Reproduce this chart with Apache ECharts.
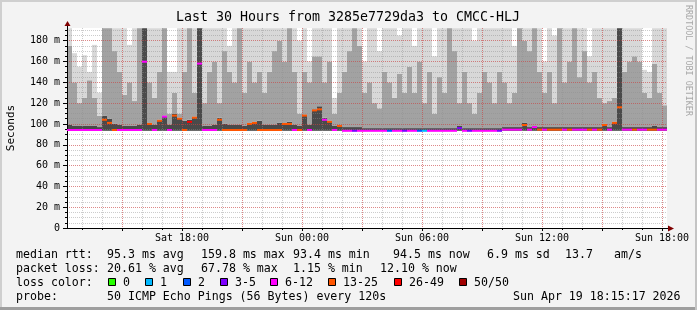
<!DOCTYPE html>
<html><head><meta charset="utf-8">
<script src="https://cdn.jsdelivr.net/npm/echarts@6/dist/echarts.min.js"></script>
<style>html,body{margin:0;padding:0;background:#f3f3f3}#c{width:697px;height:310px}</style>
</head><body><div id="c"></div>
<script>
// ---------- data ----------
const titleText = 'Last 30 Hours from 3285e7729da3 to CMCC-HLJ';
const startHour = 12.25;   // Sat 12:15 (hours since Sat 00:00)
const endHour = 42.25;     // Sun 18:15
const stepHours = 0.25;    // one column = 15 minutes
const smokeFloor = 93.4;   // lowest rtt seen (smoke starts here)

const medianRtt = [
  94.2,94.2,94.2,94.2,94.2,94.2,94.2,104,101,94.2,
  94.2,94.2,94.2,94.2,94.2,159.8,100,94.2,103,107,
  94.2,108,105,94.2,102,106,158,94.2,94.2,94.2,
  104,94.2,94.2,94.2,94.2,94.2,100,101,94.2,94.2,
  94.2,94.2,94.2,100,100,94.2,94.2,108,94.2,113,
  114,104,102,94.2,98,93.4,93.4,93.4,93.4,93.4,
  93.4,93.4,93.4,93.4,93.4,93.4,93.4,93.4,93.4,93.4,
  93.4,93.4,93.4,93.4,93.4,93.4,93.4,93.4,96,93.4,
  93.4,93.4,93.4,93.4,93.4,93.4,93.4,94.5,94.5,94.5,
  94.5,99,94.5,97,94.5,94.5,94.5,94.5,94.5,94.5,
  94.5,94.5,94.5,94.5,94.5,94.5,94.5,99,94.5,101,
  116,94.5,94.5,94.5,94.5,94.5,94.5,94.5,94.5,94.5
];
const lossCount = [
  10,10,10,10,10,10,10,15,15,15,
  10,10,10,10,10,10,15,10,15,10,
  10,15,15,15,30,15,10,10,10,10,
  15,15,15,15,15,15,15,15,15,15,
  15,15,15,15,15,10,15,15,10,15,
  15,10,15,10,15,10,10,4,10,10,
  10,10,10,10,2,10,10,4,10,10,
  2,1,10,10,10,10,10,10,4,10,
  4,10,10,10,10,10,4,10,10,10,
  10,15,10,10,15,10,15,15,15,10,
  15,10,10,10,15,10,15,15,10,15,
  15,10,10,15,10,10,15,15,10,10
];
const darkTop = [
  99,98,98,98,98,98,97,108,105,100,
  99,98,98,98,99,192,101,99,104,108,
  99,110,106,103,104,107,192,98,98,99,
  106,100,99,99,99,98,101,102,103,99,
  99,99,101,101,102,99,98,109,99,114,
  117,106,103,98,99,97,97,97,97,96,
  96,96,96,96,96,96,96,96,96,96,
  96,96,96,96,96,96,96,96,98,96,
  96,96,96,96,96,96,96,97,97,97,
  97,101,97,98,97,97,97,97,97,97,
  97,97,97,97,97,97,97,100,97,102,
  192,97,97,97,97,97,97,98,97,97
];
const midTop = [
  175,140,120,125,142,125,108,192,192,170,
  150,128,140,122,192,192,140,125,150,192,
  110,130,110,150,192,130,192,120,150,160,
  120,170,150,140,192,130,160,140,150,130,
  150,170,180,160,192,150,110,150,140,165,
  165,140,160,110,130,150,170,192,175,130,
  140,120,115,150,140,125,148,130,155,130,
  160,120,150,110,145,130,192,170,120,150,
  120,110,130,150,140,120,150,140,120,130,
  192,180,170,192,150,130,150,120,192,140,
  160,192,145,170,140,150,125,120,122,125,
  192,150,160,165,160,130,125,158,130,118
];
const maxTop = [
  192,168,155,166,150,176,130,192,192,192,
  192,192,176,192,192,192,192,192,192,192,
  150,150,192,192,192,192,192,192,192,192,
  192,192,175,192,192,192,192,192,192,192,
  192,192,192,192,192,192,180,192,160,192,
  192,192,192,125,192,192,192,192,192,160,
  192,192,170,192,192,192,185,192,192,175,
  192,192,192,165,192,192,192,192,192,192,
  192,180,192,192,192,192,192,192,192,175,
  192,192,192,192,192,160,192,185,192,192,
  192,192,192,192,165,192,192,192,192,192,
  192,192,192,192,192,152,150,192,192,192
];

const xLabelHours = [18, 24, 30, 36, 42];
const xLabels = ['Sat 18:00', 'Sun 00:00', 'Sun 06:00', 'Sun 12:00', 'Sun 18:00'];
const yLabelValues = [0, 20, 40, 60, 80, 100, 120, 140, 160, 180];
const yMax = 192.2;

const lossClassNames = ['0', '1', '2', '3-5', '6-12', '13-25', '26-49', '50/50'];
const lossClassUpper = [0, 1, 2, 5, 12, 25, 49, 50];

const statRow1 = ['median rtt:', '95.3 ms avg', '159.8 ms max', '93.4 ms min', '94.5 ms now', '6.9 ms sd', '13.7', 'am/s'];
const statRow2 = ['packet loss:', '20.61 % avg', '67.78 % max', '1.15 % min', '12.10 % now'];
const rowLabel3 = 'loss color:';
const probeRow = ['probe:', '50 ICMP Echo Pings (56 Bytes) every 120s', 'Sun Apr 19 18:15:17 2026'];
const watermark = 'RRDTOOL / TOBI OETIKER';
const yName = 'Seconds';

// ---------- styles ----------
const lossColors = ['#26ff00', '#00b8ff', '#0059ff', '#7e00ff', '#ff00ff', '#ff5500', '#ff0000', '#a10000'];
const smokeDark = '#4a4a4a', smokeMid = '#a2a2a2', smokeLight = '#d8d8d8';
const mono = '"DejaVu Sans Mono", monospace';
const minorGrid = 'rgba(143,143,143,0.45)';
const majorGrid = 'rgba(255,0,0,0.33)';

function lossColor(n) {
  for (let k = 0; k < lossClassUpper.length; k++) if (n <= lossClassUpper[k]) return lossColors[k];
  return lossColors[lossColors.length - 1];
}

const rows = medianRtt.map((m, i) => [startHour + i * stepHours, m, darkTop[i], midTop[i], maxTop[i], lossCount[i]]);

const hourTicks = [], threeHourTicks = [], minorY = [];
for (let h = Math.ceil(startHour); h <= endHour; h++) { hourTicks.push(h); if (h % 3 === 0) threeHourTicks.push(h); }
for (let v = 5; v < yMax; v += 5) minorY.push(v);

function smokeItem(params, api) {
  const t = api.value(0);
  const xL = api.coord([t, 0])[0], xR = api.coord([t + stepHours, 0])[0];
  const band = (lo, hi, fill) => {
    const yT = api.coord([t, hi])[1], yB = api.coord([t, lo])[1];
    return { type: 'rect', shape: { x: xL, y: yT, width: xR - xL, height: Math.max(0, yB - yT) }, style: { fill: fill } };
  };
  const dk = api.value(2), md = api.value(3), mx = api.value(4);
  return { type: 'group', children: [band(smokeFloor, dk, smokeDark), band(dk, md, smokeMid), band(md, mx, smokeLight)] };
}
function medianItem(params, api) {
  const t = api.value(0);
  const xL = api.coord([t, 0])[0], xR = api.coord([t + stepHours, 0])[0];
  const y = api.coord([t, api.value(1)])[1];
  return { type: 'rect', shape: { x: xL, y: y - 1, width: xR - xL, height: 2 }, style: { fill: lossColor(api.value(5)) } };
}

// ---------- decorations ----------
const g = [];
g.push({ type: 'rect', shape: { x: 0, y: 0, width: 697, height: 2 }, style: { fill: '#cfcfcf' }, z: 10 });
g.push({ type: 'rect', shape: { x: 0, y: 0, width: 2, height: 310 }, style: { fill: '#cfcfcf' }, z: 10 });
g.push({ type: 'rect', shape: { x: 0, y: 307, width: 697, height: 3 }, style: { fill: '#9e9e9e' }, z: 10 });
g.push({ type: 'rect', shape: { x: 695, y: 0, width: 2, height: 310 }, style: { fill: '#c4c4c4' }, z: 10 });
g.push({ type: 'text', x: 348, y: 18, style: { text: titleText, font: '13.3px ' + mono, fill: '#000', align: 'center', verticalAlign: 'middle', textAlign: 'center', textVerticalAlign: 'middle' }, z: 10 });
g.push({ type: 'text', x: 688, y: 5, rotation: -Math.PI / 2, style: { text: watermark, font: '8.4px ' + mono, fill: '#a8a8a8', align: 'left', verticalAlign: 'middle', textAlign: 'left', textVerticalAlign: 'middle' }, z: 10 });
g.push({ type: 'text', x: 11, y: 128, rotation: Math.PI / 2, style: { text: yName, font: '11px ' + mono, fill: '#000', align: 'center', verticalAlign: 'middle', textAlign: 'center', textVerticalAlign: 'middle' }, z: 10 });
// axis arrows
g.push({ type: 'line', shape: { x1: 67.5, y1: 25, x2: 67.5, y2: 28 }, style: { stroke: '#000', lineWidth: 1 }, z: 10 });
g.push({ type: 'polygon', shape: { points: [[64.5, 26], [70.5, 26], [67.5, 21]] }, style: { fill: '#7f0000' }, z: 10 });
g.push({ type: 'line', shape: { x1: 667, y1: 228.5, x2: 669, y2: 228.5 }, style: { stroke: '#000', lineWidth: 1 }, z: 10 });
g.push({ type: 'polygon', shape: { points: [[668, 225.5], [668, 231.5], [674, 228.5]] }, style: { fill: '#7f0000' }, z: 10 });

function txt(s, x, y) {
  g.push({ type: 'text', x: x, y: y, style: { text: s, font: '11.6px ' + mono, fill: '#000', align: 'left', verticalAlign: 'middle', textAlign: 'left', textVerticalAlign: 'middle' }, z: 10 });
}
const row1X = [16, 107, 201, 293, 393, 487, 565, 614];
statRow1.forEach((s, k) => txt(s, row1X[k], 255));
const row2X = [16, 107, 201, 293, 380];
statRow2.forEach((s, k) => txt(s, row2X[k], 269));
txt(rowLabel3, 16, 283);
const swatchX = [108, 145, 183, 220, 270, 328, 394, 459];
lossClassNames.forEach((s, k) => {
  g.push({ type: 'rect', shape: { x: swatchX[k] + 0.5, y: 278.5, width: 7, height: 7 }, style: { fill: lossColors[k], stroke: '#000', lineWidth: 1 }, z: 10 });
  txt(s, swatchX[k] + 15, 283);
});
const probeX = [16, 107, 513];
probeRow.forEach((s, k) => txt(s, probeX[k], 297));

// ---------- chart ----------
const chart = echarts.init(document.getElementById('c'), null, { renderer: 'canvas', width: 697, height: 310 });
chart.setOption({
  backgroundColor: '#f3f3f3',
  animation: false,
  grid: { left: 67, top: 28, width: 600, height: 200, show: true, backgroundColor: '#ffffff', borderWidth: 0 },
  xAxis: [
    { type: 'value', min: startHour, max: endHour, z: 3,
      axisLine: { show: true, onZero: false, lineStyle: { color: '#000', width: 1 } },
      axisTick: { show: true, customValues: hourTicks, length: 2, lineStyle: { color: '#000' } },
      axisLabel: { show: false },
      splitLine: { show: true, lineStyle: { color: minorGrid, type: [1, 1], width: 1 } } },
    { type: 'value', min: startHour, max: endHour, z: 3, position: 'bottom',
      axisLine: { show: false, onZero: false },
      axisTick: { show: true, customValues: threeHourTicks, length: 3, lineStyle: { color: '#000' } },
      axisLabel: { show: true, customValues: xLabelHours, margin: 5, fontFamily: mono, fontSize: 10, color: '#000',
        formatter: v => { const k = xLabelHours.indexOf(Math.round(v)); return k >= 0 ? xLabels[k] : ''; } },
      splitLine: { show: true, lineStyle: { color: majorGrid, type: [1, 1], width: 1 } } }
  ],
  yAxis: [
    { type: 'value', min: 0, max: yMax, z: 3,
      axisLine: { show: true, onZero: false, lineStyle: { color: '#000', width: 1 } },
      axisTick: { show: true, customValues: minorY, length: 2, lineStyle: { color: '#000' } },
      axisLabel: { show: false },
      splitLine: { show: true, lineStyle: { color: minorGrid, type: [1, 1], width: 1 } } },
    { type: 'value', min: 0, max: yMax, z: 3, position: 'left',
      axisLine: { show: false, onZero: false },
      axisTick: { show: true, customValues: yLabelValues, length: 4, lineStyle: { color: '#000' } },
      axisLabel: { show: true, customValues: yLabelValues, margin: 7, fontFamily: mono, fontSize: 10, color: '#000',
        formatter: v => v === 0 ? '0' : v + ' m' },
      splitLine: { show: true, lineStyle: { color: majorGrid, type: [1, 1], width: 1 } } }
  ],
  series: [
    { type: 'custom', name: 'smoke', xAxisIndex: 0, yAxisIndex: 0, z: 1, clip: true, silent: true,
      data: rows, encode: { x: 0, y: [1, 2, 3, 4] }, renderItem: smokeItem },
    { type: 'custom', name: 'median', xAxisIndex: 0, yAxisIndex: 0, z: 5, clip: true, silent: true,
      data: rows, encode: { x: 0, y: 1 }, renderItem: medianItem }
  ],
  graphic: { elements: g }
});
</script></body></html>
